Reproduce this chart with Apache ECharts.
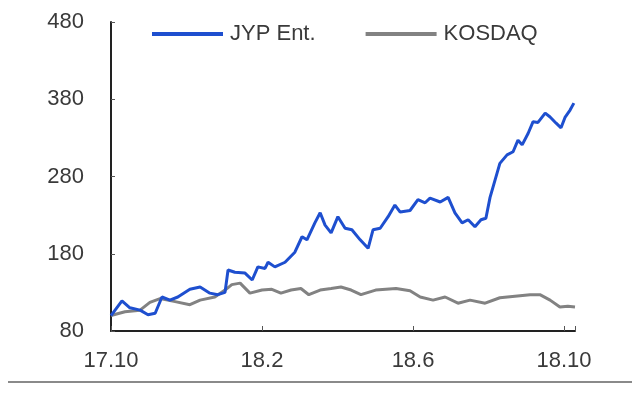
<!DOCTYPE html>
<html>
<head>
<meta charset="utf-8">
<script src="https://cdn.jsdelivr.net/npm/echarts@6/dist/echarts.min.js"></script>
<style>html,body{margin:0;padding:0;background:#fff;}#c{width:640px;height:397px;}</style>
</head>
<body>
<div id="c"></div>
<script>
// x = months since 2017-10
var xTickLabels = {0: '17.10', 4: '18.2', 8: '18.6', 12: '18.10'};
var yTicks = [80, 180, 280, 380, 480];

var jypMonths = [0,0.29,0.5,0.77,0.98,1.17,1.35,1.56,1.77,2.09,2.36,2.62,2.83,3.02,3.10,3.28,3.55,3.74,3.89,4.08,4.16,4.34,4.61,4.87,5.06,5.19,5.40,5.54,5.67,5.83,6.01,6.20,6.38,6.60,6.81,6.94,7.13,7.34,7.52,7.66,7.92,8.13,8.32,8.45,8.72,8.93,9.11,9.30,9.46,9.64,9.80,9.93,10.04,10.17,10.30,10.49,10.65,10.78,10.89,11.05,11.18,11.31,11.50,11.63,11.79,11.92,12.03,12.16,12.26];
var jypValues = [100,119,110,107,101,103,124,120,124,134,137,129,127,130,159,156,155,146,163,161,169,163,169,182,202,198,220,233,217,207,228,213,211,198,187,211,213,228,243,234,236,250,246,252,247,253,233,220,224,215,224,226,253,275,297,308,312,327,321,336,351,350,362,357,349,343,357,366,375];

var kosdaqMonths = [0,0.37,0.77,1.03,1.30,1.70,2.09,2.36,2.75,3.02,3.20,3.42,3.68,4.00,4.26,4.50,4.77,5.03,5.24,5.54,5.83,6.09,6.36,6.62,7.01,7.55,7.92,8.19,8.53,8.85,9.19,9.51,9.91,10.30,10.70,11.10,11.36,11.63,11.89,12.10,12.29];
var kosdaqValues = [100,105,107,117,122,118,114,120,124,133,140,142,129,133,134,129,133,135,127,133,135,137,133,127,133,135,132,124,120,124,116,120,116,123,125,127,127,120,111,112,111];

function pairs(xs, ys){ return xs.map(function(x,i){ return [x, ys[i]]; }); }

var chart = echarts.init(document.getElementById('c'));
var font = '"Liberation Sans", Arial, sans-serif';
chart.setOption({
  animation: false,
  grid: {left: 111, top: 22, right: 65, bottom: 66},
  legend: {
    left: 147, top: 18,
    itemWidth: 71, itemHeight: 4, itemGap: 50,
    icon: 'rect',
    textStyle: {fontFamily: font, fontSize: 22, color: '#3a3a3a', padding: [0,0,0,2]},
    data: ['JYP Ent.', 'KOSDAQ']
  },
  xAxis: {
    type: 'value', min: 0, max: 12.29, interval: 4,
    axisLine: {lineStyle: {color: '#222', width: 2}},
    axisTick: {inside: true, length: 5, lineStyle: {color: '#555', width: 1}},
    splitLine: {show: false},
    axisLabel: {
      fontFamily: font, fontSize: 22, color: '#3a3a3a', margin: 19,
      formatter: function(v){ return xTickLabels[v] || ''; }
    }
  },
  yAxis: {
    type: 'value', min: yTicks[0], max: yTicks[yTicks.length-1], interval: 100,
    axisLine: {show: true, lineStyle: {color: '#222', width: 2}},
    axisTick: {show: true, inside: true, length: 4, lineStyle: {color: '#555', width: 1}},
    splitLine: {show: false},
    axisLabel: {fontFamily: font, fontSize: 22, color: '#3a3a3a', margin: 27}
  },
  series: [
    {name: 'JYP Ent.', type: 'line', showSymbol: false, symbol: 'none',
     lineStyle: {color: '#1E4FCF', width: 3}, itemStyle: {color: '#1E4FCF'},
     data: pairs(jypMonths, jypValues), z: 3},
    {name: 'KOSDAQ', type: 'line', showSymbol: false, symbol: 'none',
     lineStyle: {color: '#828282', width: 3}, itemStyle: {color: '#828282'},
     data: pairs(kosdaqMonths, kosdaqValues), z: 2}
  ],
  graphic: [{
    type: 'line', shape: {x1: 8, y1: 382, x2: 632, y2: 382},
    style: {stroke: '#8a8a8a', lineWidth: 2}
  }]
});
</script>
</body>
</html>
